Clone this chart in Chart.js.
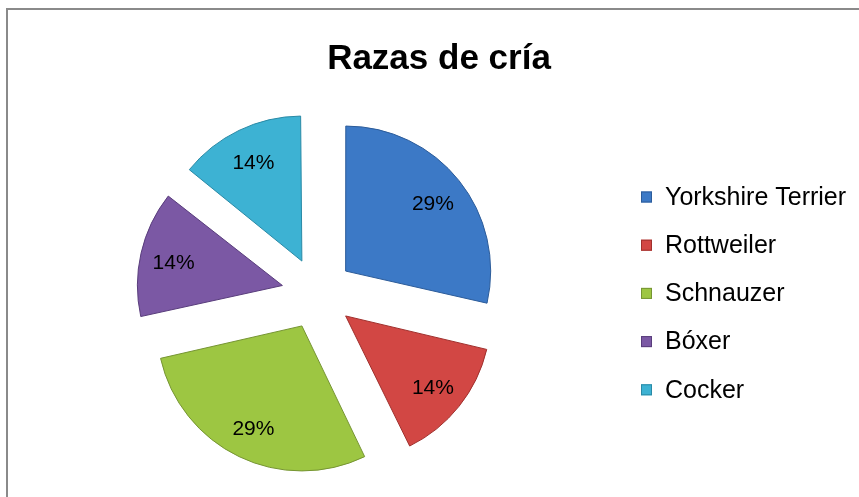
<!DOCTYPE html>
<html>
<head>
<meta charset="utf-8">
<script src="https://cdn.jsdelivr.net/npm/chart.js@4/dist/chart.umd.min.js"></script>
<style>
  html, body { margin: 0; padding: 0; background: #ffffff; }
  #wrap { position: relative; width: 859px; height: 497px; }
  canvas { display: block; }
</style>
</head>
<body>
<div id="wrap"><canvas id="c" width="859" height="497"></canvas></div>
<script>
const chartTitle = "Razas de cría";
const categories = ["Yorkshire Terrier", "Rottweiler", "Schnauzer", "Bóxer", "Cocker"];
const values = [2, 1, 2, 1, 1];
const percentLabels = ["29%", "14%", "29%", "14%", "14%"];

const fillColors = ["#3C79C6", "#D24744", "#9DC642", "#7B58A4", "#3DB2D3"];
const edgeColors = ["#2C5C9A", "#A0302D", "#769533", "#593D7C", "#2A8AA6"];

const FONT = "'Liberation Sans', Arial, sans-serif";
const SLICE_GAP = 36;   // visual distance each slice is pulled out
const PIE_RADIUS = 145;

const decor = {
  id: 'decor',
  beforeDraw(chart) {
    const ctx = chart.ctx;
    ctx.save();
    ctx.fillStyle = '#ffffff';
    ctx.fillRect(0, 0, chart.width, chart.height);
    ctx.strokeStyle = '#8a8a8a';
    ctx.lineWidth = 2;
    ctx.strokeRect(7, 9, 900, 600);
    ctx.restore();
  },
  beforeDatasetsDraw(chart) {
    // Chart.js enlarges narrow exploded slices by offset*(1-sin(angle)); keep all radii equal
    const meta = chart.getDatasetMeta(0);
    meta.data.forEach(arc => {
      const circ = arc.endAngle - arc.startAngle;
      const fix = 1 - Math.sin(Math.min(Math.PI, circ));
      arc.outerRadius = PIE_RADIUS - SLICE_GAP * fix;
    });
  },
  afterDatasetsDraw(chart) {
    const ctx = chart.ctx;
    const meta = chart.getDatasetMeta(0);
    ctx.save();
    ctx.fillStyle = '#000000';
    ctx.font = "21px " + FONT;
    ctx.textAlign = 'center';
    ctx.textBaseline = 'middle';
    meta.data.forEach((arc, i) => {
      const mid = (arc.startAngle + arc.endAngle) / 2;
      const d = SLICE_GAP + 0.77 * PIE_RADIUS;
      ctx.fillText(percentLabels[i], arc.x + Math.cos(mid) * d, arc.y + Math.sin(mid) * d + 3);
    });
    ctx.font = "bold 35px " + FONT;
    ctx.fillText(chartTitle, 439, 59);
    ctx.textAlign = 'left';
    ctx.font = "25px " + FONT;
    categories.forEach((name, i) => {
      const y = 197 + i * 48.2;
      ctx.fillStyle = fillColors[i];
      ctx.fillRect(641, y - 5.5, 11, 11);
      ctx.strokeStyle = edgeColors[i];
      ctx.lineWidth = 1;
      ctx.strokeRect(641.5, y - 5, 10, 10);
      ctx.fillStyle = '#000000';
      ctx.fillText(name, 665, y + 1);
    });
    ctx.restore();
  }
};

new Chart(document.getElementById('c'), {
  type: 'pie',
  data: {
    labels: categories,
    datasets: [{
      data: values,
      backgroundColor: fillColors,
      borderColor: edgeColors,
      borderWidth: 1,
      offset: SLICE_GAP * 4,
      hoverOffset: 0
    }]
  },
  options: {
    responsive: false,
    animation: false,
    radius: PIE_RADIUS,
    layout: { padding: { left: 0, right: 224, top: 90, bottom: 0 } },
    plugins: {
      legend: { display: false },
      title: { display: false },
      tooltip: { enabled: false }
    },
    events: []
  },
  plugins: [decor]
});
</script>
</body>
</html>
